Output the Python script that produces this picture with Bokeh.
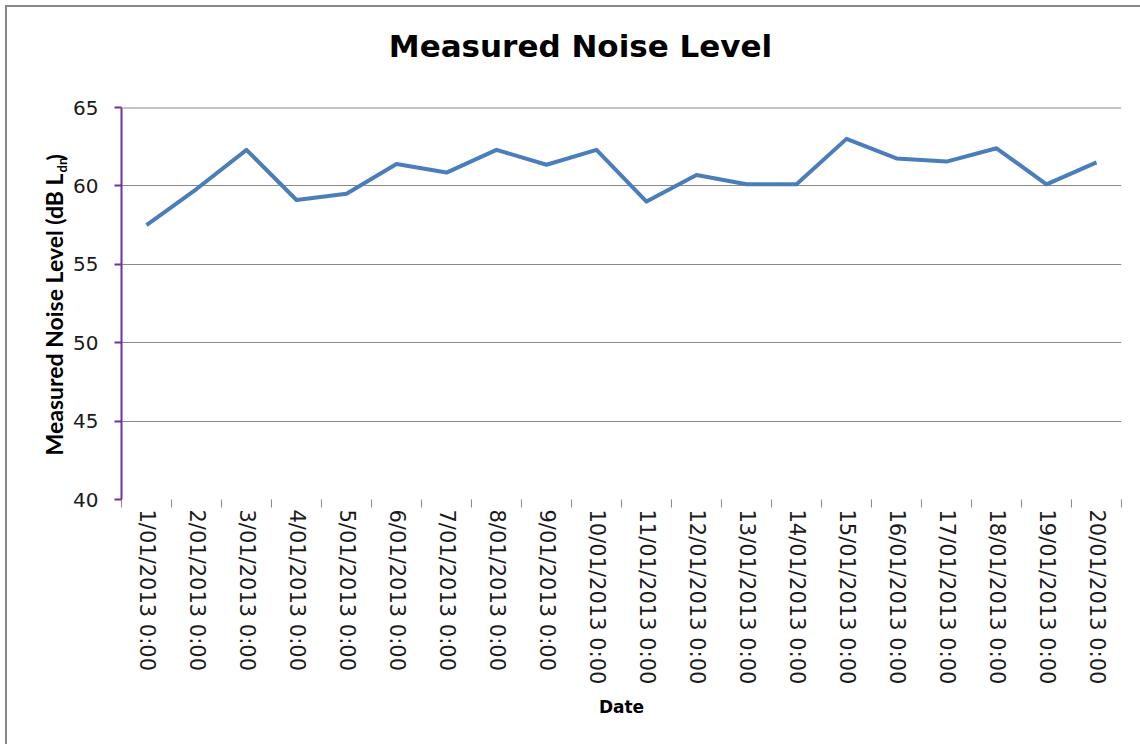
import math
from bokeh.plotting import figure
from bokeh.layouts import column, row
from bokeh.models import FixedTicker, Label, Range1d, Span
from bokeh.embed import file_html
from bokeh.resources import INLINE

# ---- data ----
dates = ["1/01/2013 0:00", "2/01/2013 0:00", "3/01/2013 0:00", "4/01/2013 0:00",
         "5/01/2013 0:00", "6/01/2013 0:00", "7/01/2013 0:00", "8/01/2013 0:00",
         "9/01/2013 0:00", "10/01/2013 0:00", "11/01/2013 0:00", "12/01/2013 0:00",
         "13/01/2013 0:00", "14/01/2013 0:00", "15/01/2013 0:00", "16/01/2013 0:00",
         "17/01/2013 0:00", "18/01/2013 0:00", "19/01/2013 0:00", "20/01/2013 0:00"]
noise_level = [57.5, 59.8, 62.3, 59.1, 59.5, 61.4, 60.85, 62.3, 61.35, 62.3,
               59.0, 60.7, 60.1, 60.1, 63.0, 61.75, 61.55, 62.4, 60.1, 61.5]
y_ticks = [40, 45, 50, 55, 60, 65]
title_text = "Measured Noise Level"
y_title_main = "Measured Noise Level (dB L"
y_title_sub = "dn"
y_title_end = ")"
x_title = "Date"

n = len(dates)
xs = list(range(1, n + 1))

TICK_FONT = "DejaVu Sans"
TITLE_FONT = "DejaVu Sans"
YT_FONT = "Lato"
BORDER = "#888888"

W, H = 1140, 744
TOP_H = 80            # strip holding the chart title
LEFT_W = 70           # strip holding the y-axis title
MAIN_W, MAIN_H = W - LEFT_W, H - TOP_H
BL, BR, BT, BB = 51, 19, 27, 245


def strip(width, height, x_range, y_range, **borders):
    f = figure(width=width, height=height, output_backend="svg", toolbar_location=None,
               x_range=x_range, y_range=y_range,
               x_axis_type=None, y_axis_type=None, title=None, **borders)
    f.outline_line_color = None
    f.background_fill_color = None
    f.border_fill_color = None
    f.grid.visible = False
    return f


# ---- top strip: chart title ----
top = strip(W, TOP_H, Range1d(0, W), Range1d(0, TOP_H), min_border=0)
top.add_layout(Label(x=580, y=TOP_H - 45, text=title_text, text_align="center",
                     text_baseline="alphabetic", text_font=TITLE_FONT,
                     text_font_size="31px", text_font_style="bold", text_color="black"))

# ---- left strip: y-axis title with subscript (data y = page y measured from bottom) ----
left = strip(LEFT_W, MAIN_H, Range1d(0, LEFT_W), Range1d(H - (TOP_H + MAIN_H - BB), H - (TOP_H + BT)),
             min_border_left=0, min_border_right=0, min_border_top=BT, min_border_bottom=BB)
left.add_layout(Label(x=53, y=H - 173, text=y_title_main, angle=math.pi / 2,
                      text_align="right", text_baseline="middle", text_font=YT_FONT,
                      text_font_size="23px", text_font_style="bold", text_color="black"))
left.add_layout(Label(x=61, y=H - 172, text=y_title_sub, angle=math.pi / 2,
                      text_align="left", text_baseline="middle", text_font=YT_FONT,
                      text_font_size="13px", text_font_style="bold", text_color="black"))
left.add_layout(Label(x=54, y=H - 160, text=y_title_end, angle=math.pi / 2,
                      text_align="left", text_baseline="middle", text_font=YT_FONT,
                      text_font_size="23px", text_font_style="bold", text_color="black"))

# ---- main chart ----
p = figure(width=MAIN_W, height=MAIN_H, output_backend="svg", toolbar_location=None,
           x_range=Range1d(0.5, n + 0.5), y_range=Range1d(y_ticks[0], y_ticks[-1]),
           title=None, min_border_left=BL, min_border_right=BR, min_border_top=BT,
           min_border_bottom=BB)
p.background_fill_color = None
p.border_fill_color = None
p.outline_line_color = None

p.xgrid.visible = False
p.ygrid.ticker = FixedTicker(ticks=y_ticks[1:])
p.ygrid.grid_line_color = "#8a8a8a"
p.ygrid.grid_line_width = 1
p.add_layout(Span(location=y_ticks[-1], dimension="width",
                  line_color="#8a8a8a", line_width=2))

xa = p.xaxis[0]
xa.ticker = FixedTicker(ticks=xs, minor_ticks=[x - 0.5 for x in xs] + [n + 0.5])
xa.major_label_overrides = {x: d for x, d in zip(xs, dates)}
xa.major_label_orientation = "vertical"
xa.major_tick_line_color = None
xa.major_tick_out = 0
xa.major_tick_in = 0
xa.minor_tick_line_color = "#8a8a8a"
xa.minor_tick_out = 8
xa.minor_tick_in = 0
xa.axis_line_color = None
xa.major_label_standoff = 2
xa.major_label_text_font = TICK_FONT
xa.major_label_text_font_size = "21px"
xa.major_label_text_color = "#1a1a1a"
xa.axis_label = x_title
xa.axis_label_text_font = TITLE_FONT
xa.axis_label_text_font_size = "17px"
xa.axis_label_text_font_style = "bold"
xa.axis_label_text_color = "black"
xa.axis_label_standoff = 10

ya = p.yaxis[0]
ya.ticker = FixedTicker(ticks=y_ticks)
ya.axis_line_color = "#7030A0"
ya.axis_line_width = 2
ya.major_tick_line_color = "#7030A0"
ya.major_tick_line_width = 2
ya.major_tick_out = 7
ya.major_tick_in = 0
ya.minor_tick_line_color = None
ya.major_label_standoff = 16
ya.major_label_text_font = TICK_FONT
ya.major_label_text_font_size = "20px"
ya.major_label_text_color = "#1a1a1a"

p.line(xs, noise_level, line_color="#4A7EBB", line_width=4, line_join="round")

layout = column(top, row(left, p, spacing=0), spacing=0)
# chart-area border (top and left edges) drawn behind the transparent canvases
layout.styles = {
    "background": (f"linear-gradient({BORDER}, {BORDER}) 5px 5px / 2px calc(100% - 5px) no-repeat, "
                   f"linear-gradient({BORDER}, {BORDER}) 5px 5px / calc(100% - 5px) 2px no-repeat, "
                   "#ffffff"),
}
open("out.html", "w").write(file_html(layout, INLINE))
